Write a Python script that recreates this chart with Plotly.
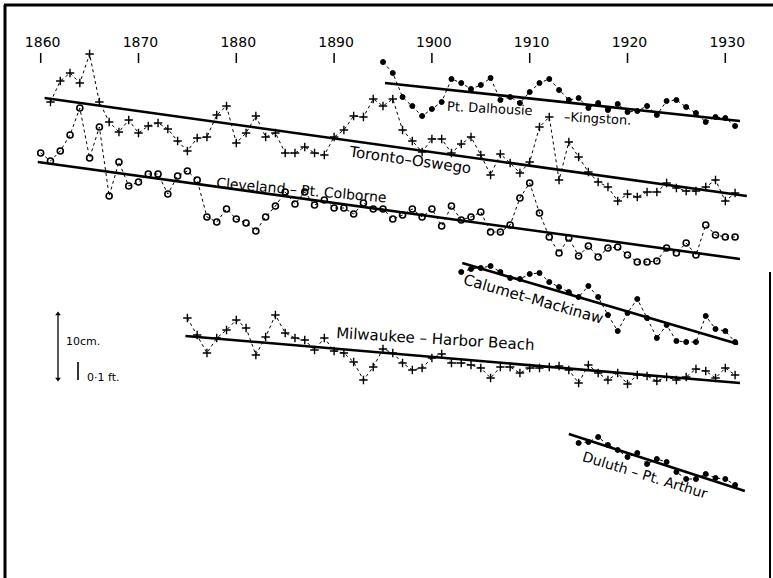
import plotly.graph_objects as go

tick_years = [1860, 1870, 1880, 1890, 1900, 1910, 1920, 1930]
tick_labels = ["1860", "1870", "1880", "1890", "1900", "1910", "1920", "1930"]

dalhousie_years = list(range(1895, 1932))
dalhousie_vals = [62, 73, 97, 106, 116, 109, 102, 79, 83, 89, 85, 78, 100, 97, 103, 92, 83, 79, 90,
                  100, 98, 108, 103, 110, 104, 112, 111, 106, 115, 101, 100, 107, 113, 122, 117, 118, 126]
dalhousie_trend_years = [1895.2, 1931.5]
dalhousie_trend_vals = [83, 121]

toronto_years = list(range(1861, 1932))
toronto_vals = [102, 81, 73, 83, 54, 102, 122, 132, 120, 133, 126, 123, 129, 141, 151, 138, 137, 115,
                106, 143, 133, 116, 137, 133, 153, 153, 147, 153, 155, 137, 130, 116, 117, 99, 106,
                99, 130, 141, 152, 139, 139, 153, 144, 137, 155, 175, 154, 163, 173, 162, 127, 117,
                180, 142, 157, 172, 182, 187, 201, 194, 197, 192, 192, 183, 188, 191, 191, 187, 180,
                201, 193]
toronto_trend_years = [1860.4, 1932.2]
toronto_trend_vals = [98, 196]

cleveland_years = list(range(1860, 1932))
cleveland_vals = [153, 161, 151, 135, 108, 158, 127, 196, 162, 186, 182, 174, 174, 194, 176, 171, 180,
                  217, 222, 209, 219, 223, 231, 217, 206, 192, 204, 192, 205, 200, 208, 208, 214, 203,
                  209, 209, 219, 215, 209, 217, 209, 226, 206, 220, 217, 212, 232, 232, 225, 198, 183,
                  213, 237, 253, 238, 256, 246, 257, 248, 247, 255, 262, 262, 261, 248, 253, 243, 255,
                  225, 235, 237, 237]
cleveland_trend_years = [1859.7, 1931.5]
cleveland_trend_vals = [162, 259]

calumet_years = list(range(1903, 1932))
calumet_vals = [272, 269, 268, 266, 272, 278, 279, 274, 273, 282, 287, 292, 297, 286, 297, 315, 331,
                313, 299, 318, 338, 325, 341, 342, 342, 316, 329, 331, 342]
calumet_trend_years = [1903.1, 1931.3]
calumet_trend_vals = [263, 344]

milwaukee_years = list(range(1875, 1932))
milwaukee_vals = [318, 335, 353, 338, 330, 320, 328, 355, 337, 315, 333, 338, 340, 350, 338, 351, 353,
                  362, 380, 367, 349, 353, 363, 370, 368, 358, 354, 363, 363, 365, 368, 378, 367, 367,
                  373, 368, 368, 367, 366, 370, 383, 365, 373, 380, 373, 384, 375, 376, 381, 377, 380,
                  377, 369, 371, 378, 368, 375]
milwaukee_trend_years = [1874.8, 1931.5]
milwaukee_trend_vals = [336, 383]

duluth_years = list(range(1915, 1932))
duluth_vals = [443, 442, 437, 445, 450, 457, 453, 464, 459, 462, 472, 479, 479, 474, 478, 479, 485]
duluth_trend_years = [1914.0, 1932.0]
duluth_trend_vals = [434, 491]

# ---------------- layout helpers -------------
W, H = 773, 578
PX_1860 = 40.7
PX_PER_YEAR = 9.78
X_MIN = 1860 - PX_1860 / PX_PER_YEAR
X_MAX = 1860 + (W - PX_1860) / PX_PER_YEAR


def px_to_year(px):
    return 1860 + (px - PX_1860) / PX_PER_YEAR


FONT = "DejaVu Sans"
fig = go.Figure()

series = [
    (dalhousie_years, dalhousie_vals, dalhousie_trend_years, dalhousie_trend_vals, "circle", 5, 1),
    (toronto_years, toronto_vals, toronto_trend_years, toronto_trend_vals, "cross-thin", 6, 1.4),
    (cleveland_years, cleveland_vals, cleveland_trend_years, cleveland_trend_vals, "circle-open", 6, 1.6),
    (calumet_years, calumet_vals, calumet_trend_years, calumet_trend_vals, "circle", 5, 1),
    (milwaukee_years, milwaukee_vals, milwaukee_trend_years, milwaukee_trend_vals, "cross-thin", 6, 1.4),
    (duluth_years, duluth_vals, duluth_trend_years, duluth_trend_vals, "circle", 5, 1),
]

for yrs, vals, tyrs, tvals, sym, size, mlw in series:
    fig.add_trace(go.Scatter(
        x=yrs, y=vals, mode="lines+markers",
        line=dict(color="black", width=1, dash="3px,3px"),
        marker=dict(symbol=sym, size=size, color="black",
                    line=dict(color="black", width=mlw)),
        showlegend=False, hoverinfo="skip"))
    fig.add_trace(go.Scatter(
        x=tyrs, y=tvals, mode="lines",
        line=dict(color="black", width=2.6),
        showlegend=False, hoverinfo="skip"))

# year labels and ticks at the top
tick_x, tick_y = [], []
for yr in tick_years:
    tick_x += [yr, yr, None]
    tick_y += [53, 63, None]
fig.add_trace(go.Scatter(x=tick_x, y=tick_y, mode="lines",
                         line=dict(color="black", width=1.5),
                         showlegend=False, hoverinfo="skip"))
fig.add_trace(go.Scatter(x=[y + 0.2 for y in tick_years], y=[43] * len(tick_years),
                         mode="text", text=tick_labels,
                         textfont=dict(family=FONT, size=14, color="black"),
                         showlegend=False, hoverinfo="skip"))

# scale bar (10 cm and 0.1 ft)
bar_x = px_to_year(58)
fig.add_trace(go.Scatter(x=[bar_x, bar_x], y=[314, 379], mode="lines+markers",
                         line=dict(color="black", width=1.3),
                         marker=dict(symbol=["triangle-up", "triangle-down"], size=5, color="black"),
                         showlegend=False, hoverinfo="skip"))
ft_x = px_to_year(78)
fig.add_trace(go.Scatter(x=[ft_x, ft_x], y=[362, 380], mode="lines",
                         line=dict(color="black", width=1.6),
                         showlegend=False, hoverinfo="skip"))

annotations = [
    dict(x=px_to_year(64), y=341, text="10cm.", size=11, angle=0, xanchor="left"),
    dict(x=px_to_year(85), y=377, text="0·1 ft.", size=11, angle=0, xanchor="left"),
    dict(x=px_to_year(410), y=160, text="Toronto–Oswego", size=15, angle=8, xanchor="center"),
    dict(x=px_to_year(301), y=190, text="Cleveland – Pt. Colborne", size=14, angle=5, xanchor="center"),
    dict(x=px_to_year(490), y=108, text="Pt. Dalhousie", size=13, angle=3, xanchor="center"),
    dict(x=px_to_year(597), y=118, text="–Kingston.", size=13, angle=3, xanchor="center"),
    dict(x=px_to_year(533), y=299, text="Calumet–Mackinaw", size=15, angle=16, xanchor="center"),
    dict(x=px_to_year(435), y=339, text="Milwaukee – Harbor Beach", size=15, angle=3.5, xanchor="center"),
    dict(x=px_to_year(645), y=475, text="Duluth – Pt. Arthur", size=14, angle=17, xanchor="center"),
]
for a in annotations:
    fig.add_annotation(x=a["x"], y=a["y"], text=a["text"], showarrow=False,
                       textangle=a["angle"], xanchor=a["xanchor"], yanchor="middle",
                       font=dict(family=FONT, size=a["size"], color="black"))

# frame
fig.add_shape(type="line", xref="paper", yref="paper", x0=5 / W, x1=5 / W, y0=0, y1=1 - 5 / H,
              line=dict(color="black", width=3))
fig.add_shape(type="line", xref="paper", yref="paper", x0=4 / W, x1=1, y0=1 - 5 / H, y1=1 - 5 / H,
              line=dict(color="black", width=3))
fig.add_shape(type="line", xref="paper", yref="paper", x0=770 / W, x1=770 / W, y0=0, y1=1 - 272 / H,
              line=dict(color="black", width=2))

fig.update_layout(
    width=W, height=H,
    margin=dict(l=0, r=0, t=0, b=0),
    paper_bgcolor="white", plot_bgcolor="white",
    xaxis=dict(range=[X_MIN, X_MAX], visible=False, fixedrange=True),
    yaxis=dict(range=[H, 0], visible=False, fixedrange=True),
    showlegend=False,
)

fig.write_html("out.html", config=dict(displayModeBar=False),
               post_script="document.body.style.margin='0';document.body.style.overflow='hidden';")
